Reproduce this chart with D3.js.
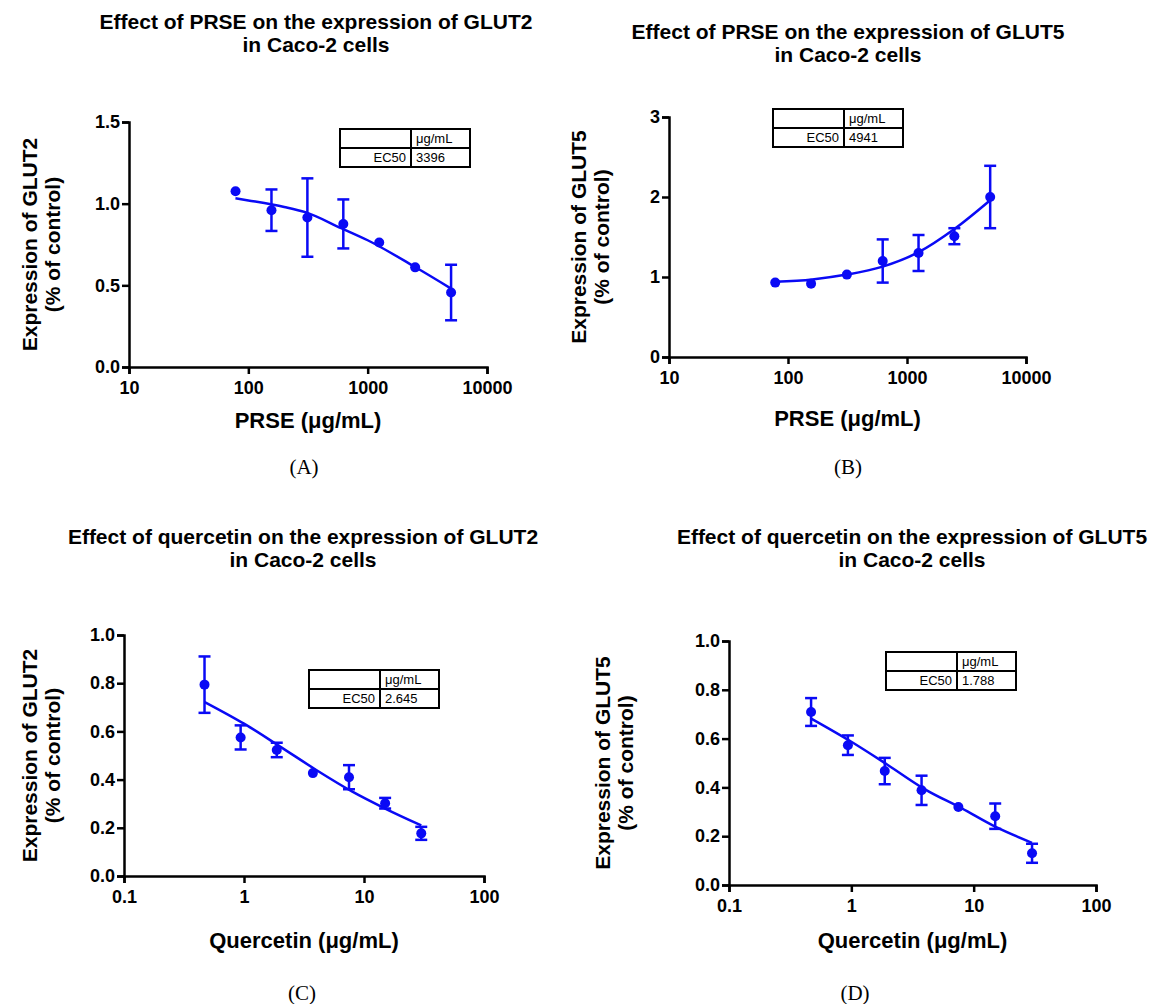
<!DOCTYPE html>
<html>
<head>
<meta charset="utf-8">
<script src="https://cdn.jsdelivr.net/npm/d3@7"></script>
<style>
body { margin: 0; background: #fff; }
svg text { font-family: "Liberation Sans", Arial, sans-serif; }
</style>
</head>
<body>
<svg class="graph" width="1151" height="1004"></svg>
<script>
// doses (two-fold dilutions)
var prseDose = [78.125, 156.25, 312.5, 625, 1250, 2500, 5000];
var quercDose = [0.46875, 0.9375, 1.875, 3.75, 7.5, 15, 30];

// means and error
var glut2Prse = [1.076, 0.96, 0.915, 0.876, 0.762, 0.61, 0.456];
var glut2PrseErr = [0, 0.127, 0.24, 0.15, 0, 0, 0.17];
var glut5Prse = [0.93, 0.917, 1.03, 1.20, 1.30, 1.51, 2.0];
var glut5PrseErr = [0, 0, 0, 0.27, 0.225, 0.1, 0.39];
var glut2Querc = [0.794, 0.575, 0.523, 0.427, 0.41, 0.302, 0.177];
var glut2QuercErr = [0.117, 0.05, 0.03, 0, 0.05, 0.022, 0.027];
var glut5Querc = [0.709, 0.573, 0.467, 0.388, 0.32, 0.282, 0.13];
var glut5QuercErr = [0.057, 0.04, 0.054, 0.06, 0, 0.052, 0.039];

// fitted curves, points
var fitAx = [78, 100, 200, 300, 600, 1000, 2500, 5000];
var fitAy = [1.033, 1.02, 0.98, 0.948, 0.85, 0.776, 0.612, 0.48];
var fitBx = [78, 160, 312, 625, 1250, 2500, 5000];
var fitBy = [0.94, 0.97, 1.03, 1.13, 1.31, 1.60, 1.96];
var fitCx = [0.47, 1, 2, 4, 8, 15, 30];
var fitCy = [0.722, 0.632, 0.537, 0.44, 0.35, 0.28, 0.21];
var fitDx = [0.47, 1, 2, 4, 8, 15, 30];
var fitDy = [0.682, 0.587, 0.491, 0.392, 0.314, 0.239, 0.173];

var ec50 = ['3396', '4941', '2.645', '1.788'];
var xTicksPrse = [10, 100, 1000, 10000];
var xTicksQuerc = [0.1, 1, 10, 100];

var blue = '#0a0af5';
var svg = d3.select('.graph');

var panels = [
  {title: ['Effect of PRSE on the expression of GLUT2', 'in Caco-2 cells'], tx: 316, ty: 29,
   l: 129, r: 487, t: 122, b: 367, xdom: [10, 10000], xt: xTicksPrse, ydom: [0, 1.5], yt: [0, 0.5, 1, 1.5], yf: '.1f',
   x: prseDose, y: glut2Prse, e: glut2PrseErr, fx: fitAx, fy: fitAy,
   ylab: 'Expression of GLUT2', ylx: 30, xlab: 'PRSE (μg/mL)', xly: 428, tab: [340, 129], ec: ec50[0], tag: '(A)', tagx: 304, tagy: 474},
  {title: ['Effect of PRSE on the expression of GLUT5', 'in Caco-2 cells'], tx: 848, ty: 39,
   l: 669, r: 1026, t: 117, b: 357, xdom: [10, 10000], xt: xTicksPrse, ydom: [0, 3], yt: [0, 1, 2, 3], yf: 'd',
   x: prseDose, y: glut5Prse, e: glut5PrseErr, fx: fitBx, fy: fitBy,
   ylab: 'Expression of GLUT5', ylx: 579, xlab: 'PRSE (μg/mL)', xly: 426, tab: [773, 109], ec: ec50[1], tag: '(B)', tagx: 848, tagy: 474},
  {title: ['Effect of quercetin on the expression of GLUT2', 'in Caco-2 cells'], tx: 303, ty: 544,
   l: 124, r: 484, t: 635, b: 876, xdom: [0.1, 100], xt: xTicksQuerc, ydom: [0, 1], yt: [0, 0.2, 0.4, 0.6, 0.8, 1], yf: '.1f',
   x: quercDose, y: glut2Querc, e: glut2QuercErr, fx: fitCx, fy: fitCy,
   ylab: 'Expression of GLUT2', ylx: 30, xlab: 'Quercetin (μg/mL)', xly: 948, tab: [309, 670], ec: ec50[2], tag: '(C)', tagx: 302, tagy: 1000},
  {title: ['Effect of quercetin on the expression of GLUT5', 'in Caco-2 cells'], tx: 912, ty: 544,
   l: 729, r: 1096, t: 641, b: 885, xdom: [0.1, 100], xt: xTicksQuerc, ydom: [0, 1], yt: [0, 0.2, 0.4, 0.6, 0.8, 1], yf: '.1f',
   x: quercDose, y: glut5Querc, e: glut5QuercErr, fx: fitDx, fy: fitDy,
   ylab: 'Expression of GLUT5', ylx: 603, xlab: 'Quercetin (μg/mL)', xly: 948, tab: [886, 652], ec: ec50[3], tag: '(D)', tagx: 855, tagy: 1000}
];

panels.forEach(function(p){
  var g = svg.append('g');
  var x = d3.scaleLog().domain(p.xdom).range([p.l, p.r]);
  var y = d3.scaleLinear().domain(p.ydom).range([p.b, p.t]);

  // title
  p.title.forEach(function(s, i){
    g.append('text').attr('x', p.tx).attr('y', p.ty + i * 23).attr('text-anchor', 'middle')
      .style('font-size', '21px').style('font-weight', 'bold').text(s);
  });

  // axes
  var xa = g.append('g').attr('transform', 'translate(0,' + p.b + ')')
    .call(d3.axisBottom(x).tickValues(p.xt).tickFormat(d3.format('~g')).tickSizeOuter(0).tickSize(7));
  var ya = g.append('g').attr('transform', 'translate(' + p.l + ',0)')
    .call(d3.axisLeft(y).tickValues(p.yt).tickFormat(d3.format(p.yf)).tickSizeOuter(0).tickSize(7));
  [xa, ya].forEach(function(a){
    a.attr('font-size', null).attr('font-family', null);
    a.select('.domain').attr('stroke', '#000').attr('stroke-width', 2.5);
    a.selectAll('.tick line').attr('stroke', '#000').attr('stroke-width', 2.5);
    a.selectAll('.tick text').style('font-size', '18px').style('font-weight', 'bold').attr('fill', '#000');
  });
  xa.selectAll('.tick text').attr('dy', '0.95em');
  ya.selectAll('.tick text').attr('x', -9);

  // axis titles
  var cy = (p.t + p.b) / 2;
  g.append('text').attr('transform', 'translate(' + p.ylx + ',' + cy + ') rotate(-90)')
    .attr('text-anchor', 'middle').attr('dy', '0.35em').style('font-size', '21px').style('font-weight', 'bold').text(p.ylab);
  g.append('text').attr('transform', 'translate(' + (p.ylx + 23) + ',' + cy + ') rotate(-90)')
    .attr('text-anchor', 'middle').attr('dy', '0.35em').style('font-size', '21px').style('font-weight', 'bold').text('(% of control)');
  g.append('text').attr('x', (p.l + p.r) / 2).attr('y', p.xly).attr('text-anchor', 'middle')
    .style('font-size', '22px').style('font-weight', 'bold').text(p.xlab);

  // fitted curve
  var fit = p.fx.map(function(d, i){ return [x(d), y(p.fy[i])]; });
  g.append('path').datum(fit).attr('fill', 'none').attr('stroke', blue).attr('stroke-width', 2.5)
    .attr('d', d3.line().curve(d3.curveMonotoneX));

  // error bars and points
  var pts = p.x.map(function(d, i){ return {x: d, y: p.y[i], e: p.e[i]}; });
  var eb = g.selectAll('.eb').data(pts.filter(function(d){ return d.e > 0; })).enter().append('g')
    .attr('stroke', blue).attr('stroke-width', 2.5);
  eb.append('line').attr('x1', function(d){ return x(d.x); }).attr('x2', function(d){ return x(d.x); })
    .attr('y1', function(d){ return y(d.y - d.e); }).attr('y2', function(d){ return y(d.y + d.e); });
  [-1, 1].forEach(function(s){
    eb.append('line').attr('x1', function(d){ return x(d.x) - 6; }).attr('x2', function(d){ return x(d.x) + 6; })
      .attr('y1', function(d){ return y(d.y + s * d.e); }).attr('y2', function(d){ return y(d.y + s * d.e); });
  });
  g.selectAll('.pt').data(pts).enter().append('circle')
    .attr('cx', function(d){ return x(d.x); }).attr('cy', function(d){ return y(d.y); })
    .attr('r', 5).attr('fill', blue);

  // EC50 table
  var tx = p.tab[0], ty = p.tab[1], c1 = 71, c2 = 59, rh = 19;
  var tb = g.append('g');
  tb.append('rect').attr('x', tx).attr('y', ty).attr('width', c1 + c2).attr('height', rh * 2)
    .attr('fill', '#fff').attr('stroke', '#000').attr('stroke-width', 2);
  tb.append('line').attr('x1', tx).attr('x2', tx + c1 + c2).attr('y1', ty + rh).attr('y2', ty + rh).attr('stroke', '#000').attr('stroke-width', 2);
  tb.append('line').attr('x1', tx + c1).attr('x2', tx + c1).attr('y1', ty).attr('y2', ty + rh * 2).attr('stroke', '#000').attr('stroke-width', 2);
  tb.append('text').attr('x', tx + c1 + 5).attr('y', ty + 14).style('font-size', '13px').text('μg/mL');
  tb.append('text').attr('x', tx + c1 - 5).attr('y', ty + rh + 14).attr('text-anchor', 'end').style('font-size', '13px').text('EC50');
  tb.append('text').attr('x', tx + c1 + 5).attr('y', ty + rh + 14).style('font-size', '13px').text(p.ec);

  // panel tag
  g.append('text').attr('x', p.tagx).attr('y', p.tagy).attr('text-anchor', 'middle')
    .style('font-family', '"Liberation Serif", "Times New Roman", serif').style('font-size', '21px').text(p.tag);
});
</script>
</body>
</html>
